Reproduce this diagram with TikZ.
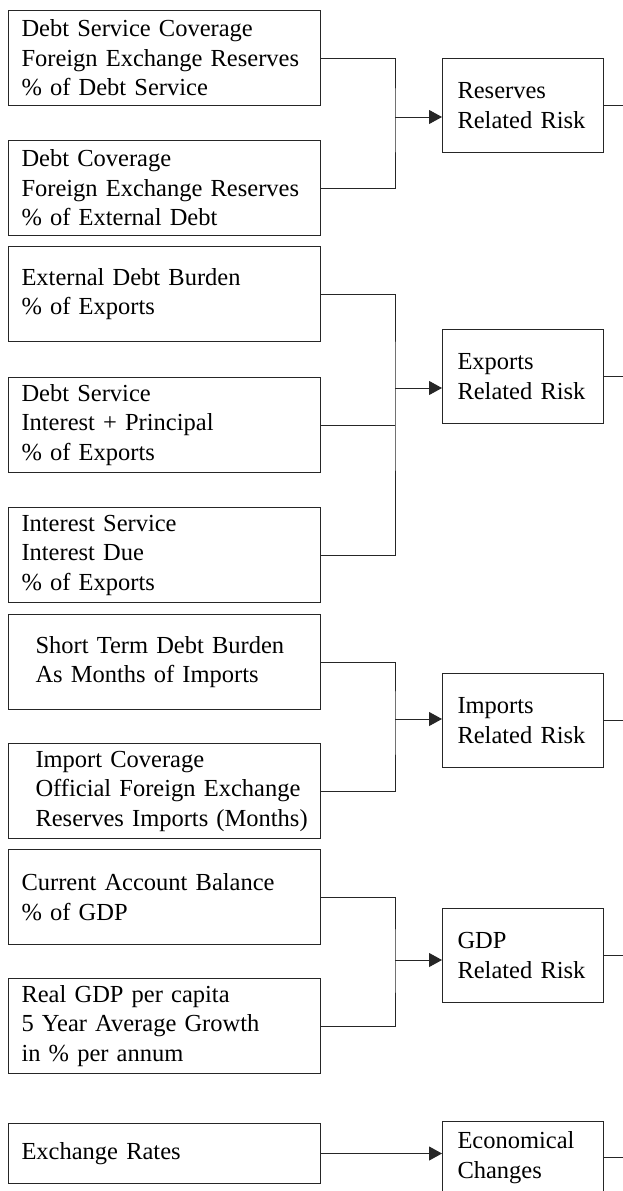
\documentclass[tikz,border=0pt]{standalone}
\usepackage{fontspec}
\setmainfont{Liberation Serif}
\usetikzlibrary{arrows.meta}

\tikzset{
  boxtext/.style={font=\fontsize{24.5}{29.5}\selectfont},
  factor/.style={boxtext, draw=black!85, line width=1pt, anchor=north west,
    minimum width=312pt, minimum height=95pt, inner xsep=13pt,
    text width=286pt, align=left},
  indented/.style={execute at begin node={\leftskip=14pt\rightskip=-14pt plus 1fil}},
  risk/.style={boxtext, draw=black!85, line width=1pt, anchor=north west,
    minimum width=161pt, minimum height=94pt, inner xsep=15pt,
    text width=131pt, align=left},
  wire/.style={draw=black!85, line width=1pt},
  feed/.style={wire, -{Triangle[length=13pt,width=14pt]}},
}

\begin{document}
\begin{tikzpicture}[x=1pt, y=-1pt]
      \useasboundingbox (0,0) rectangle (623,1191);
      \coordinate (rim) at (623,0);
      % Reserves
      \draw (8,10) node[factor](dscov){Debt Service Coverage\\Foreign Exchange Reserves\\\% of Debt Service};
      \draw (8,140) node[factor](dcov){Debt Coverage\\Foreign Exchange Reserves\\\% of External Debt};
      \draw (442,58) node[risk](resv){Reserves\\Related Risk};
      \coordinate (resvjoin) at (395,117);
      \draw[wire] (dscov.east) -| (resvjoin) |- (dcov.east);
      \draw[feed] (resvjoin) -- (resvjoin -| resv.west);
      \draw[wire] (resv.east) -- (resv.east -| rim);
      % Exports
      \draw (8,246) node[factor](extdebt){External Debt Burden\\\% of Exports};
      \draw (8,377) node[factor](dserv){Debt Service\\Interest + Principal\\\% of Exports};
      \draw (8,507) node[factor](iserv){Interest Service\\Interest Due\\\% of Exports};
      \draw (442,329) node[risk](expo){Exports\\Related Risk};
      \coordinate (expojoin) at (395,388);
      \draw[wire] (extdebt.east) -| (expojoin) |- (iserv.east);
      \draw[wire] (dserv.east) -- (dserv.east -| expojoin);
      \draw[feed] (expojoin) -- (expojoin -| expo.west);
      \draw[wire] (expo.east) -- (expo.east -| rim);
      % Imports
      \draw (8,614) node[factor, indented](stdebt){Short Term Debt Burden\\As Months of Imports};
      \draw (8,743) node[factor, indented](impcov){Import Coverage\\Official Foreign Exchange\\Reserves Imports (Months)};
      \draw (442,673) node[risk](impo){Imports\\Related Risk};
      \coordinate (impojoin) at (395,719);
      \draw[wire] (stdebt.east) -| (impojoin) |- (impcov.east);
      \draw[feed] (impojoin) -- (impojoin -| impo.west);
      \draw[wire] (impo.east) -- (impo.east -| rim);
      % GDP
      \draw (8,849) node[factor](curacc){Current Account Balance\\\% of GDP};
      \draw (8,978) node[factor](realgdp){Real GDP per capita\\5 Year Average Growth\\in \% per annum};
      \draw (442,908) node[risk](gdp){GDP\\Related Risk};
      \coordinate (gdpjoin) at (395,960);
      \draw[wire] (curacc.east) -| (gdpjoin) |- (realgdp.east);
      \draw[feed] (gdpjoin) -- (gdpjoin -| gdp.west);
      \draw[wire] (gdp.east) -- (gdp.east -| rim);
      % Exchange rates
      \draw (8,1123) node[factor, minimum height=60pt](xrate){Exchange Rates};
      \draw (442,1121) node[risk, minimum height=72pt](econ){Economical\\Changes};
      \draw[feed] (xrate.east) -- (xrate.east -| econ.west);
      \draw[wire] (econ.east) -- (econ.east -| rim);
    \end{tikzpicture}
\end{document}
